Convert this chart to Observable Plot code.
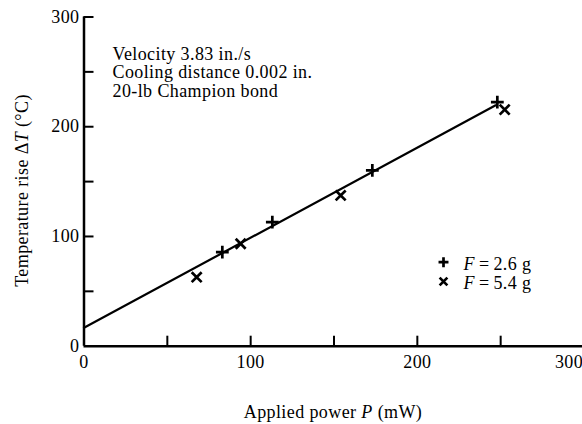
<!DOCTYPE html>
<html><head><meta charset="utf-8">
<script src="https://cdn.jsdelivr.net/npm/d3@7"></script>
<script src="https://cdn.jsdelivr.net/npm/@observablehq/plot@0.6"></script>
<style>
body{margin:0;background:#fff;}
#chart svg{font-family:"Liberation Serif","Times New Roman",serif;letter-spacing:0.4px;}
</style></head><body><div id="chart"></div>
<script>
// Data
const powerLow = [83, 113, 173, 248];          // F = 2.6 g (plus)
const riseLow = [85.7, 113.1, 160.2, 222.5];
const powerHigh = [67.6, 94, 154, 252.4];      // F = 5.4 g (times)
const riseHigh = [62.9, 93.4, 137.4, 215.6];
const fitPower = [0, 247];
const fitRise = [16.8, 219.5];
const xTickValues = [50, 100, 150, 200, 250, 300];
const xTickLabels = [0, 100, 200, 300];
const yTickValues = [50, 100, 150, 200, 250, 300];
const yTickLabels = [0, 100, 200, 300];
const notes = ["Velocity 3.83 in./s", "Cooling distance 0.002 in.", "20-lb Champion bond"];
const legendLabels = ["F\u2009=\u20092.6 g", "F\u2009=\u20095.4 g"];
const legendSymbols = ["plus", "times"];
const xTitle = "Applied power P (mW)";
const yTitle = "Temperature rise \u0394T (\u00B0C)";

const low = powerLow.map((p, i) => ({p, t: riseLow[i]}));
const high = powerHigh.map((p, i) => ({p, t: riseHigh[i]}));
const fit = fitPower.map((p, i) => ({p, t: fitRise[i]}));

const xRange = [83.5, 583.5], yRange = [345.7, 16.5];
const tickPx = 10;
const xTickLen = tickPx * 300 / (xRange[1] - xRange[0]);
const yTickLen = tickPx * 300 / (yRange[0] - yRange[1]);
const fs = 18;

const chart = Plot.plot({
  width: 582, height: 424,
  marginLeft: 83, marginRight: 0, marginTop: 16, marginBottom: 78,
  x: {domain: [0, 300], range: xRange},
  y: {domain: [0, 300], range: yRange},
  style: {background: "white", color: "black", fontSize: fs + "px", overflow: "hidden"},
  marks: [
    Plot.axisX(xTickLabels, {tickSize: 0, tickPadding: 9, label: null, fontSize: fs, tickFormat: d => d}),
    Plot.axisY(yTickLabels, {tickSize: 0, tickPadding: 4, label: null, fontSize: fs, tickFormat: d => d}),
    Plot.ruleX(xTickValues, {x: d => d, y1: 0, y2: yTickLen, strokeWidth: 2}),
    Plot.ruleY(yTickValues, {y: d => d, x1: 0, x2: xTickLen, strokeWidth: 2}),
    Plot.ruleX([0], {y1: 0, y2: 300, strokeWidth: 2.5}),
    Plot.ruleY([0], {x1: 0, x2: 300, strokeWidth: 2.5}),
    Plot.line(fit, {x: "p", y: "t", strokeWidth: 2.2}),
    Plot.dot(low, {x: "p", y: "t", symbol: "plus", r: 4.2, stroke: "black", strokeWidth: 2.7}),
    Plot.dot(high, {x: "p", y: "t", symbol: "times", r: 4.6, stroke: "black", strokeWidth: 2.7}),
    Plot.text([notes.join("\n")], {text: d => d, frameAnchor: "top-left", dx: 29, dy: 29.5, textAnchor: "start", lineAnchor: "top", lineHeight: 19 / fs, fontSize: fs}),
    ...legendLabels.map((lab, i) => Plot.dot([lab], {frameAnchor: "top-left", dx: 360, dy: 245.7 + 19.3 * i, symbol: legendSymbols[i], r: i ? 3.6 : 3.3, stroke: "black", strokeWidth: 2.7})),
    ...legendLabels.map((lab, i) => Plot.text([lab], {text: d => d, frameAnchor: "top-left", dx: 380, dy: 248.2 + 19 * i, textAnchor: "start", lineAnchor: "middle", fontSize: fs})),
    Plot.text([xTitle], {text: d => d, frameAnchor: "bottom", dy: 66, lineAnchor: "middle", fontSize: fs}),
    Plot.text([yTitle], {text: d => d, frameAnchor: "left", dx: -61.5, dy: 9, rotate: -90, textAnchor: "middle", lineAnchor: "middle", fontSize: fs})
  ]
});
document.getElementById("chart").append(chart);

// Italic variables inside labels
function styleParts(full, parts) {
  d3.select(chart).selectAll("text").each(function () {
    if (this.textContent !== full) return;
    const t = d3.select(this);
    t.text(null);
    for (const [s, it] of parts) {
      const sp = t.append("tspan").text(s);
      if (it) sp.attr("font-style", "italic");
    }
  });
}
styleParts(xTitle, [["Applied power ", false], ["P", true], [" (mW)", false]]);
styleParts(yTitle, [["Temperature rise \u0394", false], ["T", true], [" (\u00B0C)", false]]);
for (const lab of legendLabels) styleParts(lab, [["F", true], [lab.slice(1), false]]);

// The last x tick label sits pulled in from the right edge, as in the reference
d3.select(chart).selectAll("[aria-label='x-axis tick label'] text")
  .filter(function () { return this.textContent === String(xTickLabels[xTickLabels.length - 1]); })
  .attr("dx", -15);
</script></body></html>
